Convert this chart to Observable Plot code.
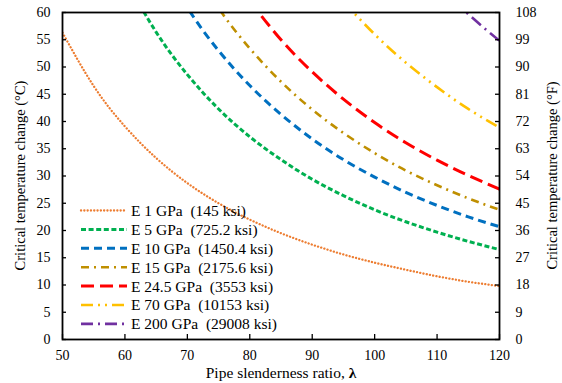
<!DOCTYPE html>
<html>
<head>
<meta charset="utf-8">
<script src="https://cdn.jsdelivr.net/npm/d3@7"></script>
<script src="https://cdn.jsdelivr.net/npm/@observablehq/plot@0.6"></script>
<style>
  body { margin: 0; background: white; }
</style>
</head>
<body>
<div id="chart"></div>
<script>
// ---- data ----
const lambda = [50, 55, 60, 65, 70, 75, 80, 85, 90, 95, 100, 105, 110, 115, 120];
const seriesNames = [
  "E 1 GPa  (145 ksi)",
  "E 5 GPa  (725.2 ksi)",
  "E 10 GPa  (1450.4 ksi)",
  "E 15 GPa  (2175.6 ksi)",
  "E 24.5 GPa  (3553 ksi)",
  "E 70 GPa  (10153 ksi)",
  "E 200 GPa  (29008 ksi)"
];
const e1   = [56.3, 46.5, 39.1, 33.3, 28.7, 25.0, 22.0, 19.5, 17.4, 15.6, 14.1, 12.8, 11.6, 10.6, 9.8];
const e5   = [null, null, 66.2, 56.4, 48.6, 42.3, 37.2, 33.0, 29.4, 26.4, 23.8, 21.6, 19.7, 18.0, 16.5];
const e10  = [null, null, null, 70.6, 60.9, 53.0, 46.6, 41.3, 36.8, 33.0, 29.8, 27.0, 24.6, 22.5, 20.7];
const e15  = [null, null, null, null, 69.8, 60.8, 53.4, 47.3, 42.2, 37.9, 34.2, 31.0, 28.3, 25.9, 23.8];
const e245 = [null, null, null, null, null, null, 62.1, 55.0, 49.1, 44.1, 39.8, 36.1, 32.9, 30.1, 27.6];
const e70  = [null, null, null, null, null, null, null, null, null, 62.0, 56.0, 50.8, 46.3, 42.3, 38.9];
const e200 = [null, null, null, null, null, null, null, null, null, null, null, null, 65.2, 59.7, 54.8];
const seriesValues = [e1, e5, e10, e15, e245, e70, e200];
const xTicks = [50, 60, 70, 80, 90, 100, 110, 120];
const yTicks = [0, 5, 10, 15, 20, 25, 30, 35, 40, 45, 50, 55, 60];
const fTickLabels = ["0", "9", "18", "27", "36", "45", "54", "63", "72", "81", "90", "99", "108"];
const xTitle = "Pipe slenderness ratio, ";
const xTitleSymbol = "λ";
const yTitleLeft = "Critical temperature change (°C)";
const yTitleRight = "Critical temperature change (°F)";

// ---- styles ----
const colors = ["#ED7D31", "#00B050", "#0070C0", "#BF8F00", "#FF0000", "#FFC000", "#7030A0"];
const dashes = ["0.1 3.2", "5 2.6", "8 5", "8 5 2 5", "13 6", "12 5 2 5 2 5", "12 5 2 5"];
const widths = [2.3, 3, 3, 2.6, 3, 2.6, 2.6];
const caps = ["round", "butt", "butt", "butt", "butt", "butt", "butt"];
const font = "Liberation Serif, Times New Roman, DejaVu Serif, serif";

const W = 562, H = 383, mL = 62, mR = 63, mT = 12, mB = 44;
const plotW = W - mL - mR, plotH = H - mT - mB;

const rows = [];
seriesValues.forEach((vals, i) => {
  vals.forEach((v, j) => rows.push({s: i, lambda: lambda[j], value: v}));
});

const lineMarks = seriesValues.map((_, i) =>
  Plot.line(rows.filter(d => d.s === i), {
    x: "lambda", y: "value",
    stroke: colors[i], strokeWidth: widths[i],
    strokeDasharray: dashes[i], strokeLinecap: caps[i],
    curve: "natural", clip: true
  })
);

const fLabel = d => fTickLabels[yTicks.indexOf(d)];

const svg = Plot.plot({
  width: W, height: H,
  marginLeft: mL, marginRight: mR, marginTop: mT, marginBottom: mB,
  x: {domain: [50, 120]},
  y: {domain: [0, 60]},
  style: {fontFamily: font, fontSize: "14px", background: "white", color: "black"},
  marks: [
    ...lineMarks,
    Plot.axisX({ticks: xTicks, tickSize: 0, tickPadding: 11, fontSize: 14, label: null}),
    Plot.axisY({ticks: yTicks, tickSize: 0, tickPadding: 12, fontSize: 14, label: null}),
    Plot.axisY({anchor: "right", ticks: yTicks, tickFormat: fLabel, tickSize: 0, tickPadding: 16, fontSize: 14, label: null}),
    Plot.ruleX(xTicks, {x: d => d, insetTop: plotH - 5, stroke: "black", strokeWidth: 1.3}),
    Plot.ruleY(yTicks, {y: d => d, insetRight: plotW - 4, stroke: "black", strokeWidth: 1.3}),
    Plot.ruleY(yTicks, {y: d => d, insetLeft: plotW - 4, stroke: "black", strokeWidth: 1.3}),
    Plot.frame({stroke: "black", strokeWidth: 1.8})
  ]
});
document.getElementById("chart").appendChild(svg);

const s = d3.select(svg);
// axis titles
const xt = s.append("text")
  .attr("x", 281).attr("y", 378)
  .attr("text-anchor", "middle")
  .attr("font-family", font).attr("font-size", 15.5).attr("fill", "black");
xt.append("tspan").text(xTitle);
xt.append("tspan").attr("font-weight", "bold").text(xTitleSymbol);

s.append("text")
  .attr("transform", `translate(20,${mT + plotH / 2}) rotate(-90)`)
  .attr("text-anchor", "middle").attr("dy", "0.35em")
  .attr("font-family", font).attr("font-size", 14.5).attr("fill", "black")
  .text(yTitleLeft);

s.append("text")
  .attr("transform", `translate(552,${mT + plotH / 2}) rotate(-90)`)
  .attr("text-anchor", "middle").attr("dy", "0.35em")
  .attr("font-family", font).attr("font-size", 14.5).attr("fill", "black")
  .text(yTitleRight);

// legend
const lg = s.append("g").attr("transform", "translate(81,210.5)");
seriesNames.forEach((name, i) => {
  const g = lg.append("g").attr("transform", `translate(0,${i * 18.9})`);
  g.append("line").attr("x1", 0).attr("x2", 46).attr("y1", 0).attr("y2", 0)
    .attr("stroke", colors[i]).attr("stroke-width", widths[i])
    .attr("stroke-dasharray", dashes[i]).attr("stroke-linecap", caps[i]);
  g.append("text").attr("x", 50).attr("y", 0).attr("dy", "0.35em")
    .attr("text-anchor", "start")
    .attr("font-family", font).attr("font-size", 15.5).attr("fill", "black")
    .style("white-space", "pre")
    .text(name);
});
</script>
</body>
</html>
